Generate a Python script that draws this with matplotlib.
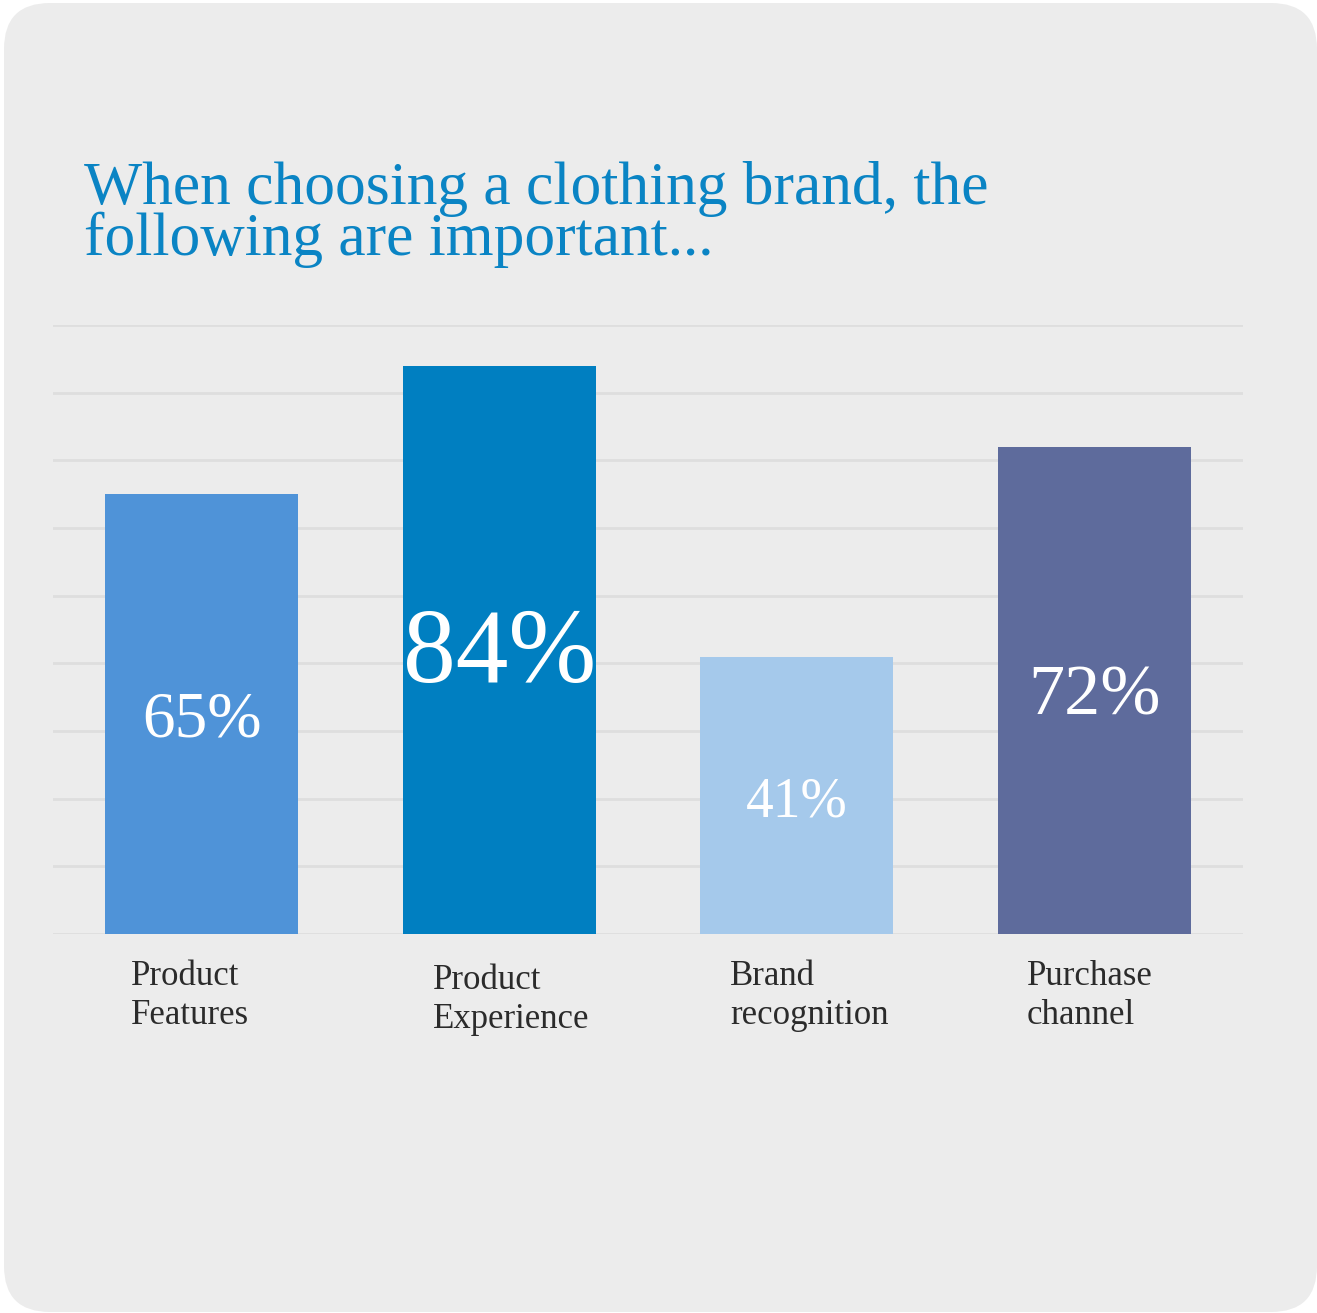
import matplotlib
matplotlib.use("Agg")
import matplotlib.pyplot as plt
from matplotlib.patches import FancyBboxPatch
import numpy as np

# ------- data -------
title = "When choosing a clothing brand, the\nfollowing are important..."
categories = ["Product\nFeatures", "Product\nExperience", "Brand\nrecognition", "Purchase\nchannel"]
values = [65, 84, 41, 72]
value_labels = ["65%", "84%", "41%", "72%"]
label_sizes = [47, 76, 40, 52]
bar_colors = ["#4f93d8", "#007fc1", "#a5c9eb", "#5e6b9c"]

W, H = 1317, 1313
fig = plt.figure(figsize=(W / 100, H / 100), dpi=100, facecolor="white")

# pixel-space canvas for the rounded panel and title
bg = fig.add_axes([0, 0, 1, 1])
bg.set_xlim(0, W)
bg.set_ylim(H, 0)
bg.axis("off")
panel = FancyBboxPatch((4, 3), W - 4, H - 4, boxstyle="round,pad=0,rounding_size=46",
                       facecolor="#ececec", edgecolor="none")
bg.add_patch(panel)

serif = "Liberation Serif"
# baseline anchor sits on the second title line
bg.text(84, 255, title, fontsize=44.3, family=serif, color="#0a84c4",
        ha="left", va="baseline", linespacing=0.87)

# ------- bar chart -------
ax = fig.add_axes([53 / W, 1 - 934 / H, (1243 - 53) / W, (934 - 325) / H])
ax.patch.set_alpha(0)
x = np.arange(len(values))
bar_w = 0.65
ax.bar(x, values, width=bar_w, color=bar_colors, zorder=3)

ax.set_xlim(-0.5, len(values) - 0.5)
ax.set_ylim(0, 90)
ax.set_yticks(np.arange(0, 91, 10))
ax.grid(axis="y", color="#dedede", linewidth=2, zorder=0)
ax.tick_params(left=False, bottom=False, labelleft=False, labelbottom=False)
for s in ax.spines.values():
    s.set_visible(False)

for xi, v, lab, fs in zip(x, values, value_labels, label_sizes):
    ax.text(xi, v / 2 - 1, lab, fontsize=fs, family=serif, color="white",
            ha="center", va="center", zorder=4)

# category names under the bars, left aligned
px = 90 / 609.0  # data units per pixel
offsets = [26, 30, 30, 29]
baselines = [985, 989, 985, 985]
for xi, cat, off, b in zip(x, categories, offsets, baselines):
    left = xi - bar_w / 2 + off / ((1243 - 53) / 4.0)
    for k, part in enumerate(cat.split("\n")):
        ax.text(left, -(b + 38.5 * k - 934) * px, part, fontsize=25, family=serif,
                color="#2b2b2b", ha="left", va="baseline", clip_on=False)

fig.savefig("out.png", dpi=100, facecolor="white")
